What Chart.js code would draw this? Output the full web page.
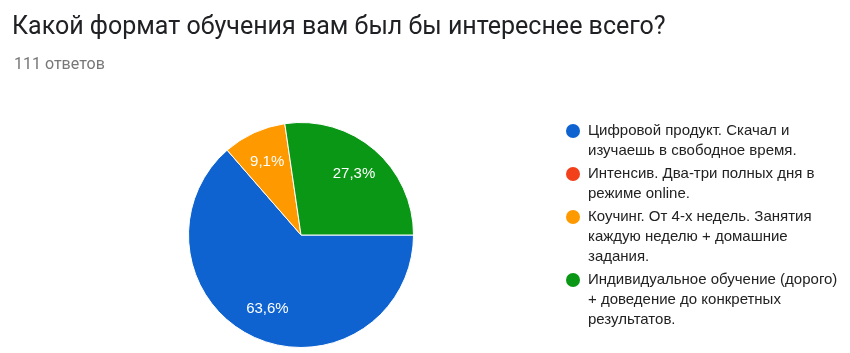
<!DOCTYPE html>
<html>
<head>
<meta charset="utf-8">
<script src="https://cdn.jsdelivr.net/npm/chart.js@4.4.1/dist/chart.umd.min.js"></script>
<style>
  html, body { margin: 0; padding: 0; background: #fff; }
  #wrap { position: relative; width: 850px; height: 353px; }
</style>
</head>
<body>
<div id="wrap"><canvas id="pie-chart" width="850" height="353"></canvas></div>
<script>
// chart texts and values
const TITLE = "Какой формат обучения вам был бы интереснее всего?";
const SUBTITLE = "111 ответов";
const categories = [
  ["Цифровой продукт. Скачал и", "изучаешь в свободное время."],
  ["Интенсив. Два-три полных дня в", "режиме online."],
  ["Коучинг. От 4-х недель. Занятия", "каждую неделю + домашние", "задания."],
  ["Индивидуальное обучение (дорого)", "+ доведение до конкретных", "результатов."],
];
const shares = [63.6, 0, 9.1, 27.3];
const colors = ["#0e63d0", "#f2401a", "#ff9900", "#0a9716"];

const pageText = {
  id: "pageText",
  afterDraw(chart) {
    const ctx = chart.ctx;
    ctx.save();
    ctx.textBaseline = "middle";
    ctx.textAlign = "left";
    ctx.fillStyle = "#202124";
    ctx.font = "25px Roboto";
    ctx.fillText(TITLE, 12, 28);
    ctx.fillStyle = "#777777";
    ctx.font = "16px Roboto";
    ctx.fillText(SUBTITLE, 14, 65);

    // slice labels
    const arcs = chart.getDatasetMeta(0).data;
    ctx.font = "15px 'Liberation Sans', Arial";
    ctx.textAlign = "center";
    ctx.fillStyle = "#ffffff";
    arcs.forEach((arc, i) => {
      if (!shares[i]) return;
      const p = arc.getProps(["x", "y", "startAngle", "endAngle", "outerRadius"]);
      const mid = (p.startAngle + p.endAngle) / 2;
      const r = p.outerRadius * 0.72;
      ctx.fillText(shares[i].toFixed(1).replace(".", ",") + "%",
        p.x + Math.cos(mid) * r, p.y + Math.sin(mid) * r);
    });

    // legend with wrapped labels
    ctx.textAlign = "left";
    ctx.font = "15px 'Liberation Sans', Arial";
    let y = 131;
    categories.forEach((lines, i) => {
      ctx.fillStyle = colors[i];
      ctx.beginPath();
      ctx.arc(573, y, 7, 0, Math.PI * 2);
      ctx.fill();
      ctx.fillStyle = "#222222";
      lines.forEach((line, j) => {
        ctx.fillText(line, 588, y + j * 20);
      });
      y += (lines.length - 1) * 20 + 23;
    });
    ctx.restore();
  },
};

new Chart(document.getElementById("pie-chart"), {
  type: "pie",
  data: {
    labels: categories.map((l) => l.join(" ")),
    datasets: [{
      data: shares,
      backgroundColor: colors,
      borderColor: "#ffffff",
      borderWidth: 1,
      hoverOffset: 0,
    }],
  },
  options: {
    responsive: false,
    animation: false,
    rotation: 90,
    layout: { padding: { top: 122, bottom: 5, left: 188, right: 436 } },
    plugins: {
      legend: { display: false },
      tooltip: { enabled: false },
    },
  },
  plugins: [pageText],
});
</script>
</body>
</html>
